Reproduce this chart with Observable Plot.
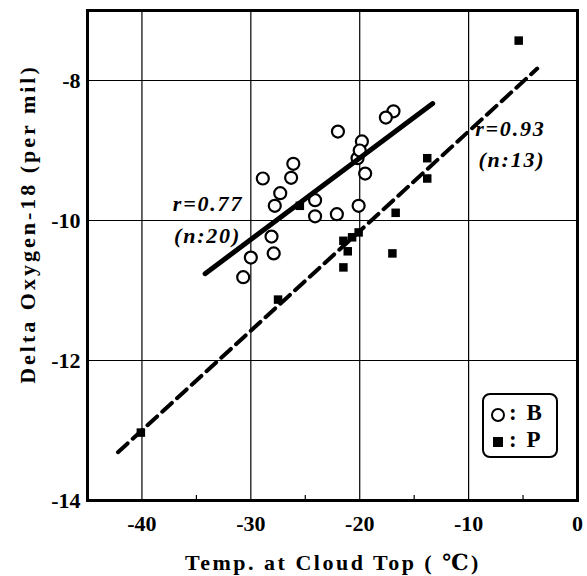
<!DOCTYPE html>
<html>
<head>
<meta charset="utf-8">
<script src="https://cdn.jsdelivr.net/npm/d3@7"></script>
<script src="https://cdn.jsdelivr.net/npm/@observablehq/plot@0.6"></script>
<style>
  body { margin: 0; background: #fff; }
  #wrap { position: relative; width: 587px; height: 576px; font-family: "Liberation Serif", "DejaVu Serif", serif; }
  #legend { position: absolute; left: 482px; top: 393px; width: 72px; height: 61px; border: 2px solid #000; border-radius: 8px; font-weight: bold; font-size: 23px; letter-spacing: 2px; }
  #legend .row { position: absolute; left: 7px; height: 26px; line-height: 26px; white-space: nowrap; }
  #legend .c { display: inline-block; width: 10px; height: 10px; border: 2.2px solid #000; border-radius: 50%; vertical-align: middle; margin-right: 4px; }
  #legend .s { display: inline-block; width: 10px; height: 10px; background: #000; vertical-align: middle; margin-left: 2px; margin-right: 6px; }
  svg g[aria-label="text"] text { letter-spacing: 1.8px; }
</style>
</head>
<body>
<div id="wrap"></div>
<script>
// Series B (open circles)
const bTemp = [-16.9,-17.6,-22.0,-19.8,-20.2,-20.0,-19.5,-26.1,-26.3,-28.9,-27.3,-27.8,-24.1,-20.1,-22.1,-24.1,-28.1,-27.9,-30.0,-30.7];
const bO18  = [-8.44,-8.53,-8.73,-8.87,-9.11,-9.00,-9.33,-9.19,-9.39,-9.40,-9.61,-9.79,-9.71,-9.79,-9.91,-9.94,-10.23,-10.47,-10.53,-10.81];
// Series P (filled squares)
const pTemp = [-5.4,-13.8,-13.8,-16.7,-21.5,-20.7,-20.1,-21.1,-21.5,-17.0,-27.5,-40.1,-25.5];
const pO18  = [-7.43,-9.11,-9.40,-9.89,-10.29,-10.24,-10.17,-10.44,-10.67,-10.47,-11.13,-13.03,-9.79];
// Regression line end points
const fitBTemp = [-34.2, -13.3];
const fitBO18  = [-10.76, -8.33];
const fitPTemp = [-42.2, -3.7];
const fitPO18  = [-13.31, -7.83];
// Ticks
const xTicks = [-40, -30, -20, -10, 0];
const yTicks = [-14, -12, -10, -8];
const xGrid = [-40, -30, -20, -10];
const yGrid = [-12, -10, -8];
const xMinor = [-35, -25, -15, -5];
// Annotations
const annoText = ["r=0.77", "(n:20)", "r=0.93", "(n:13)"];
const annoTemp = [-30.7, -30.9, -9.4, -9.1];
const annoO18  = [-9.87, -10.32, -8.79, -9.24];
const annoAnchor = ["end", "end", "start", "start"];

const bData = bTemp.map((x, i) => ({x, y: bO18[i]}));
const pData = pTemp.map((x, i) => ({x, y: pO18[i]}));
const fitB = fitBTemp.map((x, i) => ({x, y: fitBO18[i]}));
const fitP = fitPTemp.map((x, i) => ({x, y: fitPO18[i]}));
const anno = annoText.map((t, i) => ({t, x: annoTemp[i], y: annoO18[i], a: annoAnchor[i]}));

const font = "'Liberation Serif', 'DejaVu Serif', serif";

const chart = Plot.plot({
  width: 587,
  height: 576,
  marginLeft: 87,
  marginRight: 10,
  marginTop: 10,
  marginBottom: 76,
  style: {fontFamily: font, fontWeight: "bold", background: "#fff", color: "#000"},
  x: {domain: [-45, 0]},
  y: {domain: [-14, -7]},
  marks: [
    Plot.ruleX(xGrid, {stroke: "#000", strokeWidth: 1.2}),
    Plot.ruleY(yGrid, {stroke: "#000", strokeWidth: 1.2}),
    Plot.ruleX(xMinor, {y1: -14, y2: -13.93, stroke: "#000", strokeWidth: 1.2}),
    Plot.dot(pData, {x: "x", y: "y", symbol: "square", r: 4.8, fill: "#000", stroke: "none"}),
    Plot.dot(bData, {x: "x", y: "y", r: 6, fill: "#fff", stroke: "#000", strokeWidth: 2.2}),
    Plot.line(fitB, {x: "x", y: "y", stroke: "#000", strokeWidth: 5}),
    Plot.line(fitP, {x: "x", y: "y", stroke: "#000", strokeWidth: 4, strokeDasharray: "13,7"}),
    Plot.text(anno.filter(d => d.a === "end"), {x: "x", y: "y", text: "t", textAnchor: "end", lineAnchor: "bottom", fontSize: 22, fontStyle: "italic", fontWeight: "bold", fill: "#000"}),
    Plot.text(anno.filter(d => d.a === "start"), {x: "x", y: "y", text: "t", textAnchor: "start", lineAnchor: "bottom", fontSize: 22, fontStyle: "italic", fontWeight: "bold", fill: "#000"}),
    Plot.axisX(xTicks, {tickSize: 0, tickPadding: 15, fontSize: 22, label: null, tickFormat: d => String(d)}),
    Plot.axisY(yTicks, {tickSize: 0, tickPadding: 7, fontSize: 22, label: null, tickFormat: d => String(d)}),
    Plot.frame({stroke: "#000", strokeWidth: 3})
  ]
});

const svg = d3.select(chart);
svg.append("text")
  .attr("x", 333).attr("y", 570)
  .attr("text-anchor", "middle")
  .attr("font-size", 22).attr("font-weight", "bold")
  .attr("letter-spacing", 2.5)
  .attr("fill", "#000")
  .attr("font-family", font)
  .text("Temp. at Cloud Top ( \u2103)");
svg.append("text")
  .attr("transform", "translate(35,224) rotate(-90)")
  .attr("text-anchor", "middle")
  .attr("font-size", 22).attr("font-weight", "bold")
  .attr("letter-spacing", 3)
  .attr("fill", "#000")
  .attr("font-family", font)
  .text("Delta Oxygen-18 (per mil)");

const wrap = document.getElementById("wrap");
wrap.appendChild(chart);
const legend = document.createElement("div");
legend.id = "legend";
legend.innerHTML = '<div class="row" style="top:5px"><span class="c"></span>: B</div><div class="row" style="top:32px"><span class="s"></span>: P</div>';
wrap.appendChild(legend);
</script>
</body>
</html>
